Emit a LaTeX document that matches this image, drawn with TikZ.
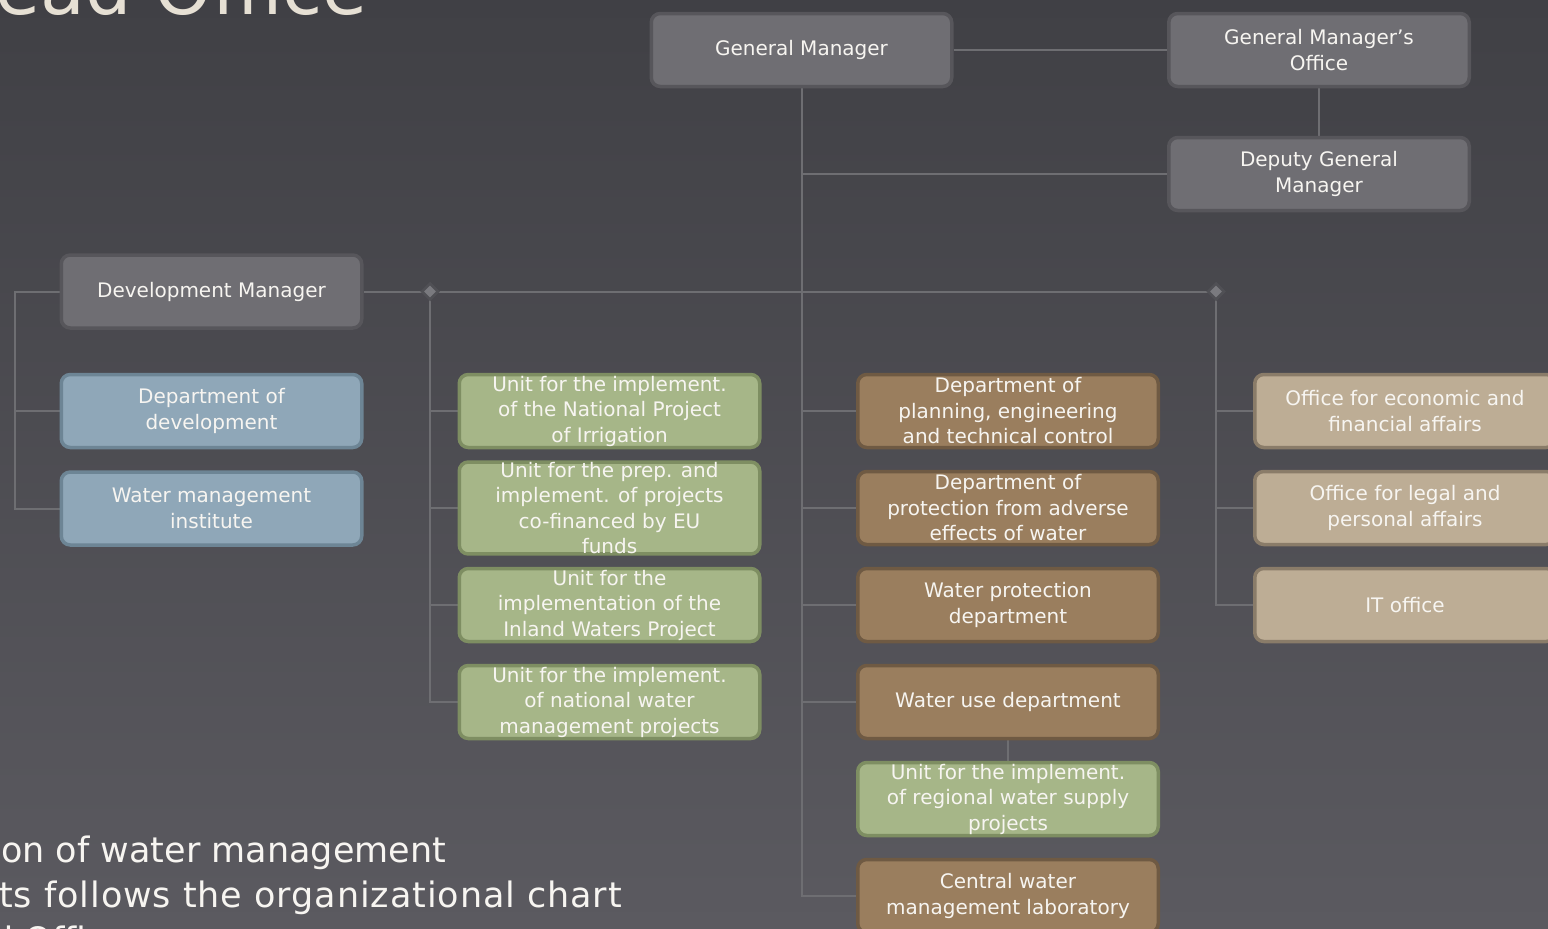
\documentclass[tikz,border=0pt]{standalone}
\usepackage{fontspec}
\setmainfont{DejaVu Sans}
\usetikzlibrary{shapes.geometric}
\definecolor{bgtop}{HTML}{404045}
\definecolor{bgbot}{HTML}{5B5A60}
\definecolor{grayfill}{HTML}{6F6E73}
\definecolor{grayline}{HTML}{57565B}
\definecolor{bluefill}{HTML}{8FA7B8}
\definecolor{blueline}{HTML}{6D8595}
\definecolor{greenfill}{HTML}{A6B688}
\definecolor{greenline}{HTML}{7E8E62}
\definecolor{brownfill}{HTML}{9A7E5E}
\definecolor{brownline}{HTML}{6F5A43}
\definecolor{tanfill}{HTML}{BDAD95}
\definecolor{tanline}{HTML}{8A7C69}
\definecolor{lineclr}{HTML}{6E6E72}
\definecolor{diafill}{HTML}{7A7A7F}
\definecolor{diahalo}{HTML}{505055}
\definecolor{boxtext}{HTML}{F7F5F1}
\definecolor{titleclr}{HTML}{E6E0D4}
\pgfdeclarelayer{bg}
\pgfdeclarelayer{lines}
\pgfsetlayers{bg,lines,main}
\tikzset{
  box/.style={rectangle, rounded corners=9pt, line width=3.5pt, minimum width=300.5pt,
    minimum height=73pt, inner sep=0pt, align=center,
    font=\fontsize{20}{25.5}\selectfont, text=boxtext},
  graybox/.style={box, fill=grayfill, draw=grayline},
  bluebox/.style={box, fill=bluefill, draw=blueline},
  greenbox/.style={box, fill=greenfill, draw=greenline},
  brownbox/.style={box, fill=brownfill, draw=brownline},
  tanbox/.style={box, fill=tanfill, draw=tanline},
  conn/.style={draw=lineclr, line width=2pt},
  dia/.style={diamond, minimum width=17pt, minimum height=17pt, inner sep=0pt, fill=diafill, draw=diahalo, line width=2.5pt},
  bigtext/.style={text=boxtext, font=\fontsize{35}{45}\selectfont, inner sep=0pt}
}
\begin{document}
\begin{tikzpicture}[x=1pt,y=-1pt]
\useasboundingbox (0,0) rectangle (1548,929);
\clip (0,0) rectangle (1548,929);
\begin{pgfonlayer}{bg}
\shade[top color=bgtop, bottom color=bgbot] (0,0) rectangle (1548,929);
\end{pgfonlayer}

% title and side text
\node[text=titleclr, font=\fontsize{73}{80}\selectfont, inner sep=0pt, anchor=base east] (title) at (368,14) {ead Office};
\node[bigtext, anchor=base west] (t1) at (1,862) {on of water management};
\node[bigtext, anchor=base east] (t2) at (622,907) {\addfontfeature{LetterSpace=2.6}ts follows the organizational chart};
\node[bigtext, anchor=base west] (t3) at (-9,952) {d Office};

% top
\node[graybox] (gm) at (801.5,50) {General Manager};
\node[graybox] (gmo) at (1319,50) {General Manager’s\\Office};
\node[graybox] (dgm) at (1319,174) {Deputy General\\Manager};
\node[graybox] (dm) at (211.5,291.5) {Development Manager};

% left column
\node[bluebox] (dd) at (211.5,411) {Department of\\development};
\node[bluebox] (wmi) at (211.5,508.5) {Water management\\institute};

% green column
\node[greenbox] (g1) at (609.5,411) {Unit for the implement.\\of the National Project\\of Irrigation};
\node[greenbox] (g2) at (609.5,508) {Unit for the prep. and\\implement. of projects\\co-financed by EU\\funds};
\node[greenbox] (g3) at (609.5,605) {Unit for the\\implementation of the\\Inland Waters Project};
\node[greenbox] (g4) at (609.5,702) {Unit for the implement.\\of national water\\management projects};

% brown column
\node[brownbox] (b1) at (1008,411) {Department of\\planning, engineering\\and technical control};
\node[brownbox] (b2) at (1008,508) {Department of\\protection from adverse\\effects of water};
\node[brownbox] (b3) at (1008,605) {Water protection\\department};
\node[brownbox] (b4) at (1008,702) {Water use department};
\node[greenbox] (b5) at (1008,799) {Unit for the implement.\\of regional water supply\\projects};
\node[brownbox] (b6) at (1008,896) {Central water\\management laboratory};

% tan column
\node[tanbox] (o1) at (1405,411) {Office for economic and\\financial affairs};
\node[tanbox] (o2) at (1405,508) {Office for legal and\\personal affairs};
\node[tanbox] (o3) at (1405,605) {IT office};

% diamonds
\node[dia] (d1) at (430,291.5) {};
\node[dia] (d2) at (1216,291.5) {};
\coordinate (lc) at (15,291.5);

\begin{pgfonlayer}{lines}
\draw[conn] (gm.east) -- (gmo.west);
\draw[conn] (gmo.south) -- (dgm.north);
\draw[conn] (gm.south) |- (b6.west);
\draw[conn] (gm.south |- dgm.west) -- (dgm.west);
\draw[conn] (dm.east) -- (d1.center) -- (d2.center);
\draw[conn] (dm.west) -- (lc) |- (wmi.west);
\draw[conn] (lc |- dd.west) -- (dd.west);
\draw[conn] (d1.center) |- (g4.west);
\draw[conn] (d1.center |- g1.west) -- (g1.west);
\draw[conn] (d1.center |- g2.west) -- (g2.west);
\draw[conn] (d1.center |- g3.west) -- (g3.west);
\draw[conn] (gm.south |- b1.west) -- (b1.west);
\draw[conn] (gm.south |- b2.west) -- (b2.west);
\draw[conn] (gm.south |- b3.west) -- (b3.west);
\draw[conn] (gm.south |- b4.west) -- (b4.west);
\draw[conn] (b4.south) -- (b5.north);
\draw[conn] (d2.center) |- (o3.west);
\draw[conn] (d2.center |- o1.west) -- (o1.west);
\draw[conn] (d2.center |- o2.west) -- (o2.west);
\end{pgfonlayer}
\end{tikzpicture}
\end{document}
